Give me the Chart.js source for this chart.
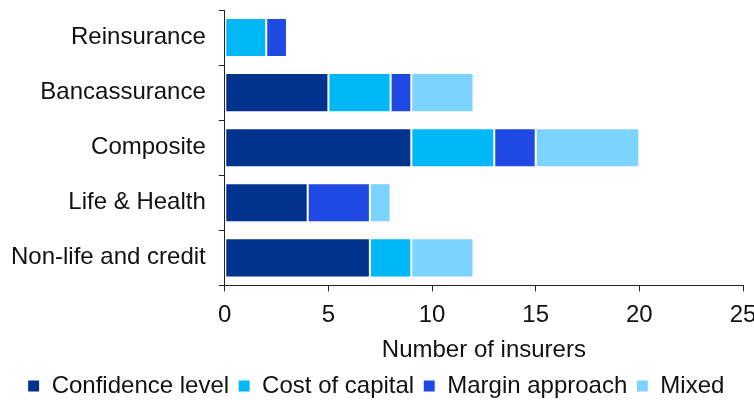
<!DOCTYPE html>
<html>
<head>
<meta charset="utf-8">
<script src="https://cdn.jsdelivr.net/npm/chart.js@4"></script>
<style>
  html, body { margin: 0; padding: 0; background: #fff; overflow: hidden; }
  #wrap { width: 754px; height: 400px; }
</style>
</head>
<body>
<div id="wrap"><canvas id="insurersChart"></canvas></div>
<script>
const categories = ['Reinsurance', 'Bancassurance', 'Composite', 'Life & Health', 'Non-life and credit'];
const confidenceLevel = [0, 5, 9, 4, 7];
const costOfCapital = [2, 3, 4, 0, 2];
const marginApproach = [1, 1, 2, 3, 0];
const mixed = [0, 3, 5, 1, 3];
const xTicks = [0, 5, 10, 15, 20, 25];

Chart.defaults.font.family = '"Liberation Sans", Arial, sans-serif';
Chart.defaults.font.size = 24;
Chart.defaults.color = '#111';

function series(label, data, color) {
    return {
        label: label,
        data: data,
        backgroundColor: color,
        borderColor: '#ffffff',
        borderWidth: 1,
        borderSkipped: false,
        barPercentage: 0.71,
        categoryPercentage: 1
    };
}

new Chart(document.getElementById('insurersChart'), {
    type: 'bar',
    data: {
        labels: categories,
        datasets: [
            series('Confidence level', confidenceLevel, '#00338d'),
            series('Cost of capital', costOfCapital, '#00b8f5'),
            series('Margin approach', marginApproach, '#1e49e2'),
            series('Mixed', mixed, '#7dd3ff')
        ]
    },
    options: {
        indexAxis: 'y',
        responsive: true,
        maintainAspectRatio: false,
        animation: false,
        layout: { padding: { top: 10, left: -2, right: 0, bottom: -8 } },
        plugins: {
            tooltip: { enabled: false },
            legend: {
                position: 'bottom',
                labels: {
                    boxWidth: 12,
                    boxHeight: 12,
                    padding: 9,
                    font: { size: 24 }
                }
            }
        },
        scales: {
            x: {
                stacked: true,
                min: 0,
                max: 25,
                afterBuildTicks: function(axis) {
                    axis.ticks = xTicks.map(function(v) { return { value: v }; });
                },
                afterFit: function(axis) {
                    axis.paddingRight = 11;
                },
                ticks: { padding: 10, font: { size: 24 } },
                grid: { drawOnChartArea: false, drawTicks: true, tickLength: 6, color: '#222' },
                border: { color: '#222', width: 1 },
                title: { display: true, text: 'Number of insurers', font: { size: 24 }, padding: { top: -4, bottom: 0 } }
            },
            y: {
                stacked: true,
                afterFit: function(axis) {
                    axis.paddingTop = 0;
                    axis.paddingBottom = 0;
                },
                ticks: { padding: 13, font: { size: 24 } },
                grid: { drawOnChartArea: false, drawTicks: true, tickLength: 6, color: '#222', offset: true },
                border: { color: '#222', width: 1 }
            }
        }
    }
});
</script>
</body>
</html>
